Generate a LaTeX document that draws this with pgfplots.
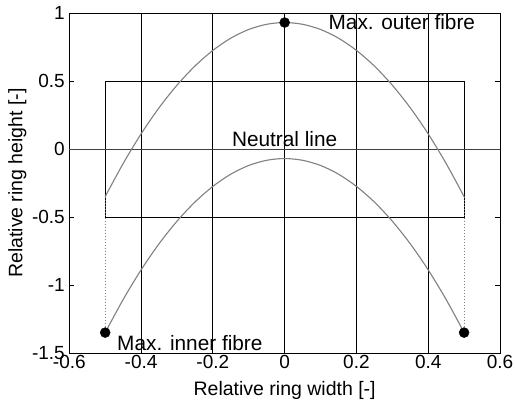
\documentclass[border=0pt]{standalone}
\usepackage{pgfplots}
\pgfplotsset{compat=1.18}
\usepackage{fontspec}
\setmainfont{Liberation Sans}
\begin{document}
\begin{tikzpicture}
\begin{axis}[
  scale only axis,
  width=430.7pt, height=340pt,
  xmin=-0.6, xmax=0.6, ymin=-1.5, ymax=1,
  xtick={-0.6,-0.4,-0.2,0,0.2,0.4,0.6},
  xticklabels={{-0.6},{-0.4},{-0.2},0,0.2,0.4,0.6},
  ytick={-1.5,-1,-0.5,0,0.5,1},
  yticklabels={{-1.5},{-1},{-0.5},0,0.5,1},
  tick align=inside,
  major tick length=5pt,
  tick style={black, line width=0.8pt},
  axis line style={black, line width=0.9pt},
  xmajorgrids,
  grid style={black, line width=0.8pt, solid},
  ticklabel style={font=\fontsize{19}{22}\selectfont},
  xticklabel style={yshift=1pt},
  yticklabel style={xshift=-1pt},
  xlabel={Relative ring width [-]},
  ylabel={Relative ring height [-]},
  every axis x label/.style={at={(axis description cs:0.5,-0.1088)}, anchor=center, font=\fontsize{19.5}{23}\selectfont},
  every axis y label/.style={at={(axis description cs:-0.1207,0.5)}, rotate=90, anchor=center, font=\fontsize{19.5}{23}\selectfont},
  clip=false,
]
% rectangle
\addplot[black, line width=0.8pt] coordinates {(-0.5,-0.5) (0.5,-0.5) (0.5,0.5) (-0.5,0.5) (-0.5,-0.5)};
% neutral line
\addplot[black!75, line width=0.8pt] coordinates {(-0.6,0) (0.6,0)};
% dotted ends
\addplot[gray, dotted, line width=1pt] coordinates {(-0.5,-0.35) (-0.5,-1.35)};
\addplot[gray, dotted, line width=1pt] coordinates {(0.5,-0.35) (0.5,-1.35)};
% outer fibre
\addplot[gray, line width=1.1pt, smooth] coordinates {
(-0.5,-0.35) (-0.45,-0.107) (-0.4,0.111) (-0.35,0.303) (-0.3,0.469) (-0.25,0.61) (-0.2,0.725) (-0.15,0.815) (-0.1,0.879) (-0.05,0.917) (0,0.93)
(0.05,0.917) (0.1,0.879) (0.15,0.815) (0.2,0.725) (0.25,0.61) (0.3,0.469) (0.35,0.303) (0.4,0.111) (0.45,-0.107) (0.5,-0.35)};
% inner fibre
\addplot[gray, line width=1.1pt, smooth] coordinates {
(-0.5,-1.35) (-0.45,-1.107) (-0.4,-0.889) (-0.35,-0.697) (-0.3,-0.531) (-0.25,-0.39) (-0.2,-0.275) (-0.15,-0.185) (-0.1,-0.121) (-0.05,-0.083) (0,-0.07)
(0.05,-0.083) (0.1,-0.121) (0.15,-0.185) (0.2,-0.275) (0.25,-0.39) (0.3,-0.531) (0.35,-0.697) (0.4,-0.889) (0.45,-1.107) (0.5,-1.35)};
% markers
\addplot[only marks, mark=*, mark size=5pt, black] coordinates {(0,0.93) (-0.5,-1.35) (0.5,-1.35)};
\node[anchor=west, inner sep=0pt, font=\fontsize{20.8}{24}\selectfont] at (axis cs:0.122,0.93) {Max. outer fibre};
\node[anchor=south, inner sep=0pt, yshift=2pt, font=\fontsize{20.8}{24}\selectfont] at (axis cs:0,0) {Neutral line};
\node[anchor=west, inner sep=0pt, font=\fontsize{20.8}{24}\selectfont] at (axis cs:-0.467,-1.43) {Max. inner fibre};
\end{axis}
\pgfresetboundingbox
\useasboundingbox (-69.3pt,-52pt) rectangle (445.7pt,353pt);
\end{tikzpicture}
\end{document}
